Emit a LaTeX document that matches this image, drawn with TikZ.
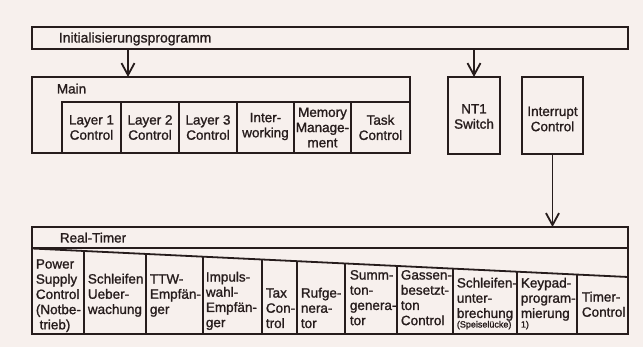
\documentclass[tikz,border=0pt]{standalone}
\usepackage{fontspec}
\setmainfont[FakeBold=1.2]{Liberation Sans}
\usetikzlibrary{arrows.meta}
\definecolor{bg}{RGB}{247,240,237}
\definecolor{ink}{RGB}{38,28,28}
\newcommand\fs{\fontsize{13.5}{15.2}\selectfont}
\newcommand\fsl{\fontsize{14}{15.2}\selectfont}
\newcommand\fsm{\fontsize{9}{10}\selectfont}
\begin{document}
\begin{tikzpicture}[x=1pt,y=-1pt,line width=1.8pt,color=ink,
  box/.style={draw,rectangle,inner sep=0,outer sep=0,anchor=north west},
  lbl/.style={font=\fs,inner sep=0,anchor=base west},
  coltxt/.style={font=\fs,inner sep=0,anchor=north west,align=left},
  ctr/.style={font=\fs,inner sep=0,align=center},
  smalltxt/.style={font=\fsm,inner sep=0,anchor=base west},
  arr/.style={-{Straight Barb[length=12pt,width=13pt]}}]
\fill[bg] (0,0) rectangle (643,347);
\useasboundingbox (0,0) rectangle (643,347);

% boxes
\node[box,minimum width=596pt,minimum height=22pt] (init) at (32,27) {};
\node[box,minimum width=378pt,minimum height=76pt] (main) at (32,77) {};
\node[box,minimum width=52pt,minimum height=77pt] (nt1) at (448,77) {};
\node[box,minimum width=61pt,minimum height=77pt] (intr) at (522,77) {};
\node[box,minimum width=596pt,minimum height=107pt] (rt) at (32,227) {};

% titles
\node[lbl,font=\fsl] (tinit) at (58,42.5) {Initialisierungsprogramm};
\node[lbl] (tmain) at (56,93.5) {Main};
\node[lbl] (trt) at (59,242.5) {Real-Timer};

% arrows
\draw[arr] (init.south -| 128,0) -- (main.north -| 128,0);
\draw[arr] (init.south -| nt1.north) -- (nt1.north);
\draw[arr] (intr.south) -- (rt.north -| intr.south);

% Main sub-boxes
\draw (62,153) -- (62,102) -- (410,102);
\foreach \x in {121,179,237,294,351} \draw (\x,102) -- (\x,153);
\node[ctr] (l1) at (91.5,127.5) {Layer 1\\Control};
\node[ctr] (l2) at (150,127.5) {Layer 2\\Control};
\node[ctr] (l3) at (208,127.5) {Layer 3\\Control};
\node[ctr] (iw) at (265.5,126.5) {Inter-\\working};
\node[ctr] (mm) at (322.5,127.5) {Memory\\Manage-\\ment};
\node[ctr] (tc) at (380.5,127.5) {Task\\Control};

\node[ctr] (tnt1) at (474,116.5) {NT1\\Switch};
\node[ctr] (tintr) at (552.5,119) {Interrupt\\Control};

% Real-Timer
\draw (32,248) -- (628,248);
\draw (32,248.5) -- (628,277);
\foreach \x in {84,146,203,262,297,345,397,453,517,577}
  \draw (\x,{248.5+(\x-32)*28.5/596}) -- (\x,334);

\node[coltxt] (c1) at (35,257) {\strut Power\\Supply\\Control\\(Notbe-\\\ trieb)};
\node[coltxt] (c2) at (87,272) {\strut Schleifen\\Ueber-\\wachung};
\node[coltxt] (c3) at (149,272) {\strut TTW-\\Empfän-\\ger};
\node[coltxt] (c4) at (205,270) {\strut Impuls-\\wahl-\\Empfän-\\ger};
\node[coltxt] (c5) at (265,286) {\strut Tax\\Con-\\trol};
\node[coltxt] (c6) at (300,286) {\strut Rufge-\\nera-\\tor};
\node[coltxt] (c7) at (349,268) {\strut Summ-\\ton-\\genera-\\tor};
\node[coltxt] (c8) at (400,268) {\strut Gassen-\\besetzt-\\ton\\Control};
\node[coltxt] (c9) at (456,276) {\strut Schleifen-\\unter-\\brechung};
\node[smalltxt] (c9s) at (456,327.5) {(Speiselücke)};
\node[coltxt] (c10) at (520,276) {\strut Keypad-\\program-\\mierung};
\node[smalltxt] (c10s) at (520,327.5) {1)};
\node[coltxt] (c11) at (581,290) {\strut Timer-\\Control};
\end{tikzpicture}
\end{document}
